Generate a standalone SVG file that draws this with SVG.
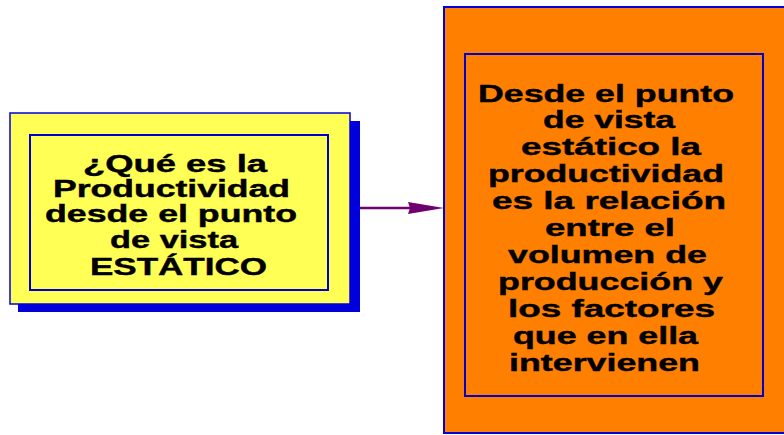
<svg xmlns="http://www.w3.org/2000/svg" width="784" height="435" viewBox="0 0 784 435">
<style>
.t{font-family:"Liberation Sans",Arial,sans-serif;font-weight:bold;font-size:23px;fill:#000;stroke:#000;stroke-width:0.4}
.frame{fill:none;stroke:#0000CC;stroke-width:2}
</style>
<rect width="784" height="435" fill="#fff"/>
<g id="node-question">
<rect x="18" y="121" width="342" height="191" fill="#0000DD"/>
<rect x="10" y="113" width="340" height="191" fill="#FFFF55" stroke="#0000DD" stroke-width="1.5"/>
<rect class="frame" x="30" y="135" width="298" height="155"/>
<text class="t" x="83" y="172" textLength="184" lengthAdjust="spacingAndGlyphs">¿Qué es la</text>
<text class="t" x="53" y="197" textLength="237" lengthAdjust="spacingAndGlyphs">Productividad</text>
<text class="t" x="45" y="222" textLength="252" lengthAdjust="spacingAndGlyphs">desde el punto</text>
<text class="t" x="110" y="248" textLength="128" lengthAdjust="spacingAndGlyphs">de vista</text>
<text class="t" x="90" y="275" textLength="177" lengthAdjust="spacingAndGlyphs">ESTÁTICO</text>
</g>
<g id="node-answer">
<rect x="444" y="7" width="350" height="426" fill="#FF7F00" stroke="#0000DD" stroke-width="2"/>
<rect class="frame" x="465" y="54" width="298" height="342"/>
<text class="t" x="478" y="102" textLength="256" lengthAdjust="spacingAndGlyphs">Desde el punto</text>
<text class="t" x="543" y="128" textLength="132" lengthAdjust="spacingAndGlyphs">de vista</text>
<text class="t" x="521" y="155" textLength="180" lengthAdjust="spacingAndGlyphs">estático la</text>
<text class="t" x="488" y="182" textLength="236" lengthAdjust="spacingAndGlyphs">productividad</text>
<text class="t" x="492" y="209" textLength="234" lengthAdjust="spacingAndGlyphs">es la relación</text>
<text class="t" x="545" y="236" textLength="130" lengthAdjust="spacingAndGlyphs">entre el</text>
<text class="t" x="508" y="263" textLength="199" lengthAdjust="spacingAndGlyphs">volumen de</text>
<text class="t" x="498" y="290" textLength="225" lengthAdjust="spacingAndGlyphs">producción y</text>
<text class="t" x="508" y="317" textLength="207" lengthAdjust="spacingAndGlyphs">los factores</text>
<text class="t" x="513" y="344" textLength="185" lengthAdjust="spacingAndGlyphs">que en ella</text>
<text class="t" x="509" y="371" textLength="191" lengthAdjust="spacingAndGlyphs">intervienen</text>
</g>
<g id="connectors">
<line x1="360" y1="208" x2="410" y2="208" stroke="#700070" stroke-width="2.5"/>
<polygon points="408,202 444,208 408,214 410,208" fill="#700070"/>
</g>
</svg>
